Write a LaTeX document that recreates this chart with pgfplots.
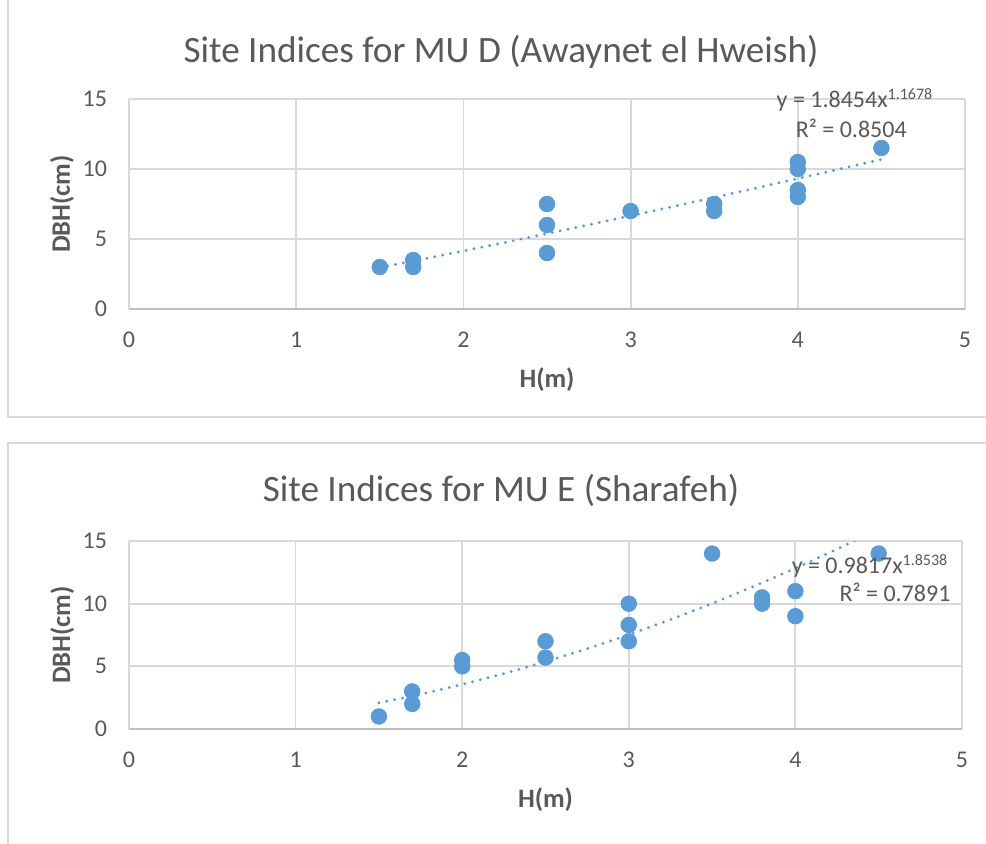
\documentclass[border=0pt]{standalone}
\usepackage{pgfplots}
\pgfplotsset{compat=1.18}
\usepackage{fontspec}
\setmainfont{Carlito}
\definecolor{ptblue}{HTML}{5B9BD5}
\definecolor{txtgray}{HTML}{595959}
\definecolor{gridgray}{HTML}{D9D9D9}
\definecolor{axgray}{HTML}{BFBFBF}

\pgfplotstableread{
x y
1.5 3
1.7 3.5
1.7 3
2.5 7.5
2.5 6
2.5 4
3 7
3.5 7.5
3.5 7
4 10.5
4 10
4 8.5
4 8
4.5 11.5
}\dataD

\pgfplotstableread{
x y
1.5 2.963
1.75 3.547
2 4.146
2.25 4.757
2.5 5.380
2.75 6.014
3 6.657
3.25 7.309
3.5 7.970
3.75 8.639
4 9.315
4.25 9.998
4.5 10.688
}\trendD

\pgfplotstableread{
x y
1.5 1
1.7 3
1.7 2
2 5.5
2 5
2.5 7
2.5 5.7
3 10
3 8.3
3 7
3.5 14
3.8 10.5
3.8 10
4 11
4 9
4.5 14
}\dataE

\pgfplotstableread{
x y
1.5 2.082
1.75 2.770
2 3.549
2.25 4.414
2.5 5.366
2.75 6.404
3 7.524
3.25 8.728
3.5 10.013
3.75 11.380
4 12.826
4.25 14.351
4.5 15.95
}\trendE

\tikzset{eq/.style={text=txtgray, font=\fontsize{12}{14}\selectfont, inner sep=0pt}}

\pgfplotsset{
  sitestyle/.style={
    scale only axis,
    xmin=0, xmax=5, ymin=0, ymax=15,
    xtick={0,1,2,3,4,5}, ytick={0,5,10,15},
    grid=major,
    major grid style={gridgray, line width=0.9pt},
    axis line style={draw=none},
    tick style={draw=none},
    ticklabel style={font=\fontsize{12}{14}\selectfont, text=txtgray},
    /pgf/number format/assume math mode=true,
    xticklabel style={anchor=center, yshift=-15.5pt},
    yticklabel style={anchor=east, xshift=-7.5pt},
    label style={font=\bfseries\fontsize{13.3}{15}\selectfont, text=txtgray},
    clip mode=individual,
  },
  trend/.style={ptblue, line width=1.6pt, line cap=round, dash pattern=on 0pt off 4pt},
  pts/.style={only marks, mark=*, mark size=3.9pt, mark options={fill=ptblue, draw=ptblue}},
}

\begin{document}
\begin{tikzpicture}
\path[use as bounding box] (0,0) rectangle (493pt,421.5pt);
\fill[white] (0,0) rectangle (493pt,421.5pt);
% panel borders
\draw[gridgray, line width=1pt] (4pt,440pt) -- (4pt,213pt) -- (505pt,213pt);
\draw[gridgray, line width=1pt] (4pt,-10pt) -- (4pt,200pt) -- (505pt,200pt);

% titles
\node[text=txtgray, font=\fontsize{18.6}{22}\selectfont] at (250.5pt,395.5pt) {Site Indices for MU D (Awaynet el Hweish)};
\node[text=txtgray, font=\fontsize{18.6}{22}\selectfont] at (250.5pt,176.5pt) {Site Indices for MU E (Sharafeh)};

\begin{axis}[sitestyle,
  at={(64.5pt,267pt)}, anchor=south west,
  width=418pt, height=105pt,
  xlabel={H(m)}, ylabel={DBH(cm)},
  xlabel style={at={(axis description cs:0.5,-0.338)}, anchor=center},
  ylabel style={at={(axis description cs:-0.080,0.5)}, anchor=center},
]
\draw[axgray, line width=0.9pt] (axis cs:0,0) -- (axis cs:5,0);
\addplot[trend] table[x=x,y=y] {\trendD};
\addplot[pts] table[x=x,y=y] {\dataD};
\node[eq] at (axis cs:4.342,14.93) {y = 1.8454x\textsuperscript{1.1678}};
\node[eq] at (axis cs:4.32,12.93) {R² = 0.8504};
\end{axis}

\begin{axis}[sitestyle,
  at={(64.5pt,57pt)}, anchor=south west,
  width=416.5pt, height=94pt,
  xlabel={H(m)}, ylabel={DBH(cm)},
  xlabel style={at={(axis description cs:0.5,-0.378)}, anchor=center},
  ylabel style={at={(axis description cs:-0.080,0.5)}, anchor=center},
]
\draw[axgray, line width=0.9pt] (axis cs:0,0) -- (axis cs:5,0);
\addplot[trend] table[x=x,y=y] {\trendE};
\addplot[pts] table[x=x,y=y] {\dataE};
\node[eq] at (axis cs:4.448,13.0) {y = 0.9817x\textsuperscript{1.8538}};
\node[eq] at (axis cs:4.598,10.93) {R² = 0.7891};
\end{axis}
\end{tikzpicture}
\end{document}
